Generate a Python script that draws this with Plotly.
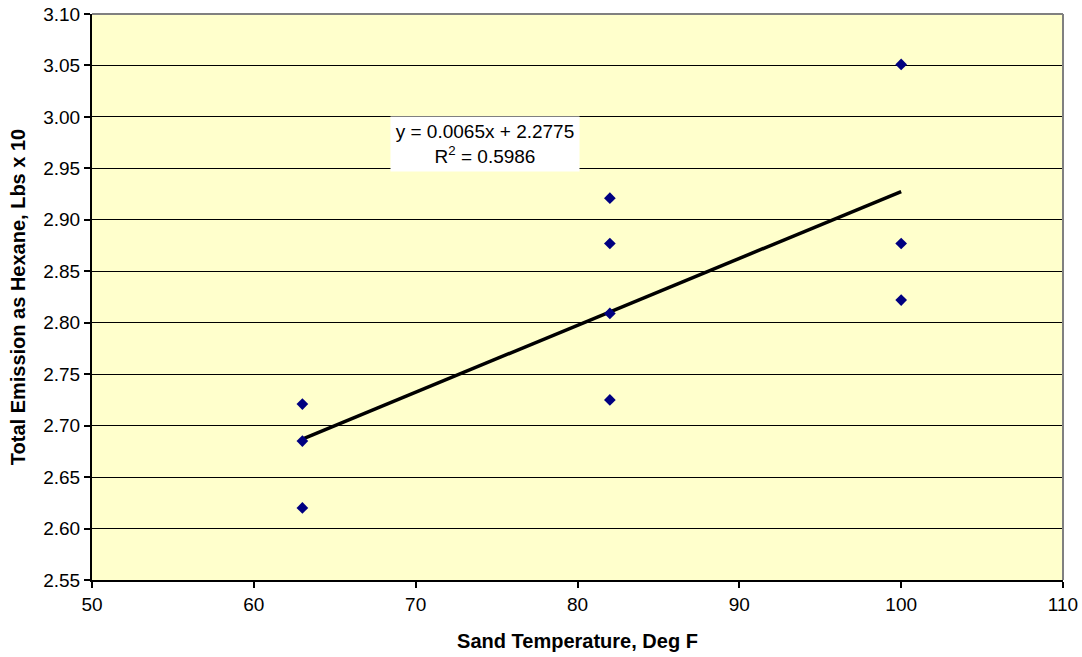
import plotly.graph_objects as go

# Sand temperature (deg F) and total emission as hexane (lbs x 10)
sand_temp = [63, 63, 63, 82, 82, 82, 82, 100, 100, 100]
emission = [2.721, 2.685, 2.620, 2.921, 2.877, 2.809, 2.725, 3.051, 2.877, 2.822]

# Linear trendline coefficients and fit quality
slope = 0.0065
intercept = 2.2775
r_squared = 0.5986

x_ticks = [50, 60, 70, 80, 90, 100, 110]
y_ticks = [2.55, 2.60, 2.65, 2.70, 2.75, 2.80, 2.85, 2.90, 2.95, 3.00, 3.05, 3.10]

trend_x = [min(sand_temp), max(sand_temp)]
trend_y = [slope * t + intercept for t in trend_x]

FONT = "Liberation Sans, Arial, sans-serif"

fig = go.Figure()

fig.add_trace(go.Scatter(
    x=trend_x, y=trend_y, mode="lines",
    line=dict(color="black", width=3.5),
    showlegend=False, hoverinfo="skip",
))

fig.add_trace(go.Scatter(
    x=sand_temp, y=emission, mode="markers",
    marker=dict(symbol="diamond", size=9, color="#000080",
                line=dict(width=0)),
    showlegend=False,
))

fig.add_annotation(
    x=74.3, y=2.974, xref="x", yref="y",
    text=f"y = {slope}x + {intercept}<br>R<sup>2</sup> = {r_squared}",
    showarrow=False, bgcolor="white",
    font=dict(family=FONT, size=19, color="black"),
    width=186, height=52, align="center",
)

# grey frame on top and right of the plotting area
fig.add_shape(type="line", xref="paper", yref="paper", x0=0, x1=1, y0=1, y1=1,
              line=dict(color="#808080", width=2))
fig.add_shape(type="line", xref="paper", yref="paper", x0=1, x1=1, y0=0, y1=1,
              line=dict(color="#808080", width=2))

axis_font = dict(family=FONT, size=19, color="black")
title_font = dict(family=FONT, size=20, color="black")

fig.update_layout(
    width=1082, height=657,
    margin=dict(l=92, r=19, t=14, b=77),
    paper_bgcolor="white",
    plot_bgcolor="#FFFFCC",
    xaxis=dict(
        range=[50, 110], tickvals=x_ticks, ticktext=[str(v) for v in x_ticks],
        showgrid=False, zeroline=False, automargin=False,
        showline=True, linecolor="black", linewidth=2,
        ticks="outside", ticklen=6, tickwidth=2, tickcolor="black",
        tickfont=axis_font,
        title=dict(text="<b>Sand Temperature, Deg F</b>", font=title_font, standoff=20),
    ),
    yaxis=dict(
        range=[2.55, 3.10], tickvals=y_ticks, ticktext=[f"{v:.2f}" for v in y_ticks],
        showgrid=True, gridcolor="black", gridwidth=1, zeroline=False, automargin=False,
        showline=True, linecolor="black", linewidth=2,
        ticks="outside", ticklen=6, tickwidth=2, tickcolor="black",
        tickfont=axis_font,
        title=dict(text="<b>Total Emission as Hexane, Lbs x 10</b>", font=title_font, standoff=12),
    ),
)

fig.write_html("out.html")
